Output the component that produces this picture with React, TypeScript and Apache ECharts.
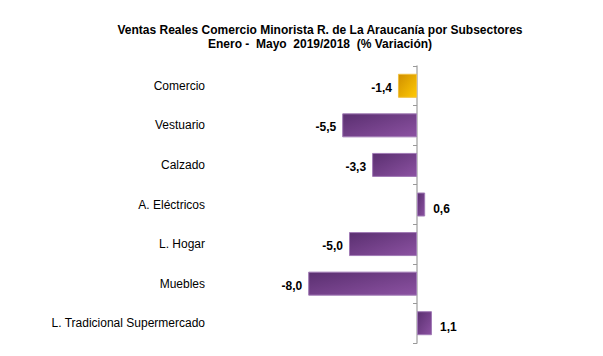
import React, { useEffect, useRef } from "react";
import * as echarts from "echarts";

const categories = [
  "Comercio",
  "Vestuario",
  "Calzado",
  "A. Eléctricos",
  "L. Hogar",
  "Muebles",
  "L. Tradicional Supermercado",
];
const values = [-1.4, -5.5, -3.3, 0.6, -5.0, -8.0, 1.1];
const highlightIndex = 0;

const purple = new echarts.graphic.LinearGradient(0, 0, 1, 1, [
  { offset: 0, color: "#5a2f70" },
  { offset: 1, color: "#8c52a2" },
]);
const gold = new echarts.graphic.LinearGradient(0, 0, 1, 1, [
  { offset: 0, color: "#d08f00" },
  { offset: 1, color: "#ffca05" },
]);

export default function App() {
  const ref = useRef<HTMLDivElement>(null);
  useEffect(() => {
    if (!ref.current) return;
    const chart = echarts.init(ref.current, null, { renderer: "svg" });
    chart.setOption({
      animation: false,
      title: {
        text: "Ventas Reales Comercio Minorista R. de La Araucanía por Subsectores\nEnero -  Mayo  2019/2018  (% Variación)",
        left: 315,
        textAlign: "center",
        top: 18,
        textStyle: {
          fontFamily: "Liberation Sans, Arial, sans-serif",
          fontSize: 12,
          fontWeight: "bold",
          color: "#000",
          lineHeight: 14,
        },
      },
      grid: { left: 281, width: 272, top: 66, bottom: 13 },
      xAxis: {
        type: "value",
        min: -10,
        max: 10,
        show: false,
      },
      yAxis: {
        type: "category",
        data: categories,
        inverse: true,
        axisLine: { show: true, lineStyle: { color: "#b0b0b0", width: 1.5 } },
        axisTick: { show: true, length: 4, lineStyle: { color: "#999" } },
        axisLabel: {
          margin: 76,
          color: "#000",
          fontSize: 12,
          fontFamily: "Liberation Sans, Arial, sans-serif",
        },
      },
      series: [
        {
          type: "bar",
          barWidth: 24,
          data: values.map((v, i) => ({
            value: v,
            itemStyle: {
              color: i === highlightIndex ? gold : purple,
              borderColor: i === highlightIndex ? "#f0c040" : "#a07ab5",
              borderWidth: 1,
            },
            label: {
              show: true,
              position: v < 0 ? "left" : "right",
              distance: v < 0 ? 6 : 8,
              offset: [0, v < 0 ? 2 : 4],
            },
          })),
          label: {
            formatter: (p: any) => Number(p.value).toFixed(1).replace(".", ","),
            color: "#000",
            fontWeight: "bold",
            fontSize: 12,
            fontFamily: "Liberation Sans, Arial, sans-serif",
          },
        },
      ],
    });
    return () => chart.dispose();
  }, []);
  return <div ref={ref} style={{ width: 603, height: 356, position: "absolute", left: 0, top: 0 }} />;
}
